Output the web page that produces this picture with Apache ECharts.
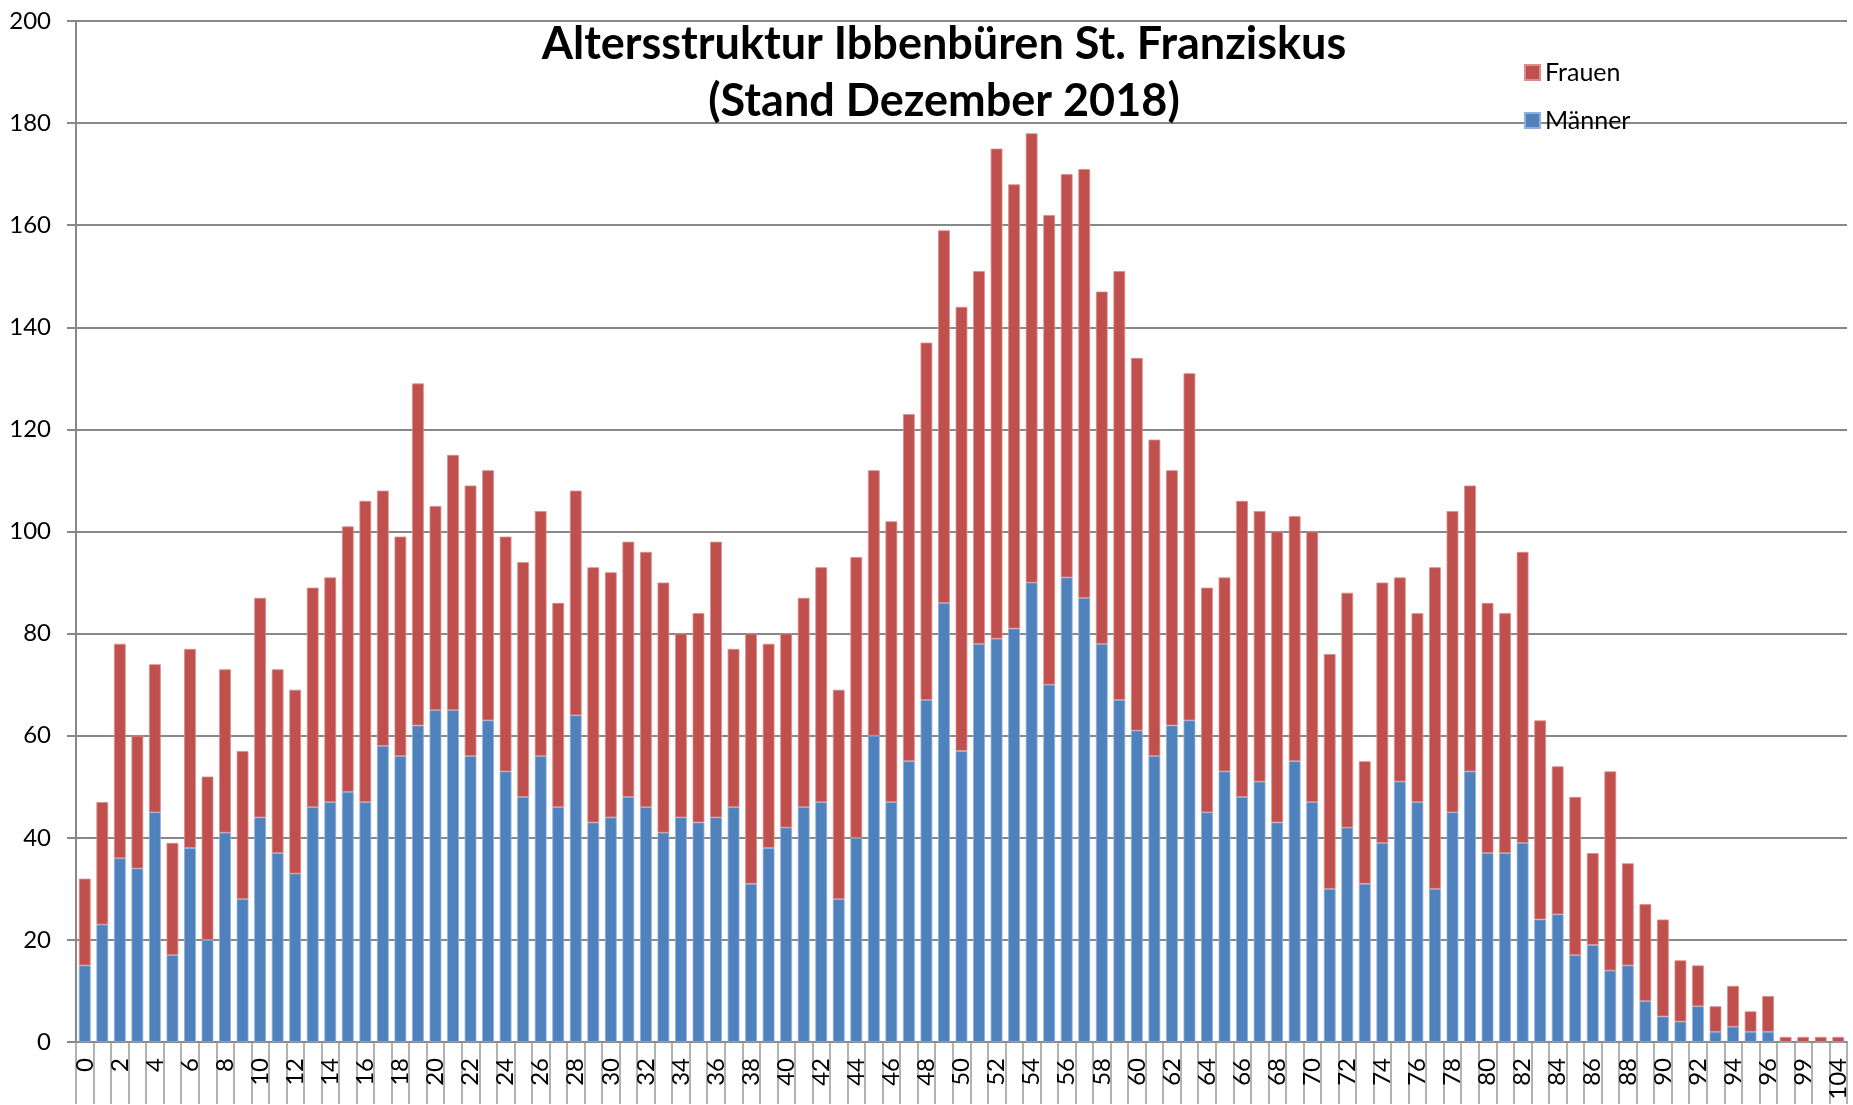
<!DOCTYPE html>
<html>
<head>
<meta charset="utf-8">
<script src="https://cdn.jsdelivr.net/npm/echarts@6/dist/echarts.min.js"></script>
<style>
  html, body { margin: 0; padding: 0; background: #fff; }
  #chart { width: 1853px; height: 1105px; }
</style>
</head>
<body>
<div id="chart"></div>
<script>
// Altersjahre (0..96, dann nur noch einzelne)
const ages = [];
for (let a = 0; a <= 96; a++) ages.push(String(a));
ages.push('97', '99', '101', '104');

// Männer
const maenner = [
  15, 23, 36, 34, 45, 17, 38, 20, 41, 28,
  44, 37, 33, 46, 47, 49, 47, 58, 56, 62,
  65, 65, 56, 63, 53, 48, 56, 46, 64, 43,
  44, 48, 46, 41, 44, 43, 44, 46, 31, 38,
  42, 46, 47, 28, 40, 60, 47, 55, 67, 86,
  57, 78, 79, 81, 90, 70, 91, 87, 78, 67,
  61, 56, 62, 63, 45, 53, 48, 51, 43, 55,
  47, 30, 42, 31, 39, 51, 47, 30, 45, 53,
  37, 37, 39, 24, 25, 17, 19, 14, 15, 8,
  5, 4, 7, 2, 3, 2, 2, 0, 0, 0, 0
];

// Gesamt je Alter (Frauen = Gesamt - Männer)
const gesamt = [
  32, 47, 78, 60, 74, 39, 77, 52, 73, 57,
  87, 73, 69, 89, 91, 101, 106, 108, 99, 129,
  105, 115, 109, 112, 99, 94, 104, 86, 108, 93,
  92, 98, 96, 90, 80, 84, 98, 77, 80, 78,
  80, 87, 93, 69, 95, 112, 102, 123, 137, 159,
  144, 151, 175, 168, 178, 162, 170, 171, 147, 151,
  134, 118, 112, 131, 89, 91, 106, 104, 100, 103,
  100, 76, 88, 55, 90, 91, 84, 93, 104, 109,
  86, 84, 96, 63, 54, 48, 37, 53, 35, 27,
  24, 16, 15, 7, 11, 6, 9, 1, 1, 1, 1
];
const frauen = gesamt.map((g, i) => g - maenner[i]);

const chart = echarts.init(document.getElementById('chart'));
const font = 'Lato, "Open Sans", sans-serif';

chart.setOption({
  animation: false,
  textStyle: { fontFamily: font },
  title: {
    text: 'Altersstruktur Ibbenbüren St. Franziskus\n(Stand Dezember 2018)',
    left: 939,
    textAlign: 'center',
    top: 11,
    textStyle: { fontSize: 45, fontWeight: 'bold', color: '#000', lineHeight: 57, fontFamily: font }
  },
  legend: {
    data: ['Frauen', 'Männer'],
    orient: 'vertical',
    left: 1519,
    top: 55,
    itemWidth: 15,
    itemHeight: 15,
    itemGap: 23,
    icon: 'rect',
    textStyle: { fontSize: 25, color: '#000', fontFamily: font }
  },
  grid: { left: 76, right: 6, top: 21, bottom: 63, containLabel: false },
  xAxis: {
    type: 'category',
    data: ages,
    axisLine: { lineStyle: { color: '#888', width: 2 } },
    axisTick: { show: true, interval: 0, length: 62, lineStyle: { color: '#999', width: 1.5 } },
    axisLabel: { interval: 1, rotate: 90, fontSize: 24, color: '#000', margin: 16, fontFamily: font }
  },
  yAxis: {
    type: 'value',
    min: 0,
    max: 200,
    interval: 20,
    axisLine: { show: true, lineStyle: { color: '#888', width: 2 } },
    axisTick: { show: true, length: 9, lineStyle: { color: '#888', width: 2 } },
    axisLabel: { fontSize: 24, color: '#000', margin: 25, fontFamily: font },
    splitLine: { lineStyle: { color: '#888', width: 2 } }
  },
  series: [
    {
      name: 'Männer',
      type: 'bar',
      stack: 'alter',
      data: maenner,
      barCategoryGap: '33%',
      itemStyle: { color: '#4F81BD', borderColor: '#8DB0DC', borderWidth: 0.8 }
    },
    {
      name: 'Frauen',
      type: 'bar',
      stack: 'alter',
      data: frauen,
      barCategoryGap: '33%',
      itemStyle: { color: '#C0504D', borderColor: '#DB8E8C', borderWidth: 0.8 }
    }
  ]
});
</script>
</body>
</html>
